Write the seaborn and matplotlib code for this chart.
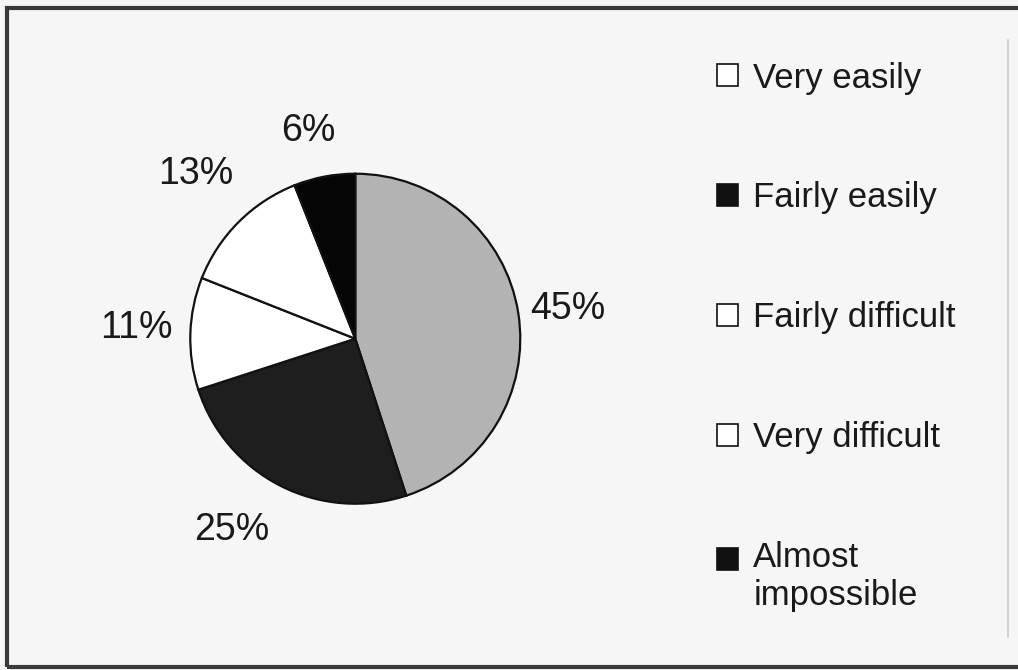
import matplotlib
matplotlib.use("Agg")
import matplotlib.pyplot as plt
from matplotlib.patches import Patch, Rectangle
from matplotlib.lines import Line2D
import numpy as np
import seaborn as sns

# data
categories = ["Very easily", "Fairly easily", "Fairly difficult", "Very difficult", "Almost\nimpossible"]
shares = [45, 25, 11, 13, 6]
wedge_colors = ["#b3b3b3", "#1e1e1e", "#ffffff", "#ffffff", "#050505"]
legend_colors = ["#ffffff", "#111111", "#ffffff", "#ffffff", "#111111"]

# where each percentage sits (radius units, angle nudge in degrees)
label_dist = [1.30, 1.38, 1.33, 1.39, 1.29]
label_nudge = [-1, -6, -1, -1, 2]

sns.set_theme(style="white")
plt.rcParams['font.family'] = ['Liberation Sans', 'DejaVu Sans']

fig = plt.figure(figsize=(10.18, 6.70), dpi=100, facecolor="#f6f6f6")

# pie axes : centre ~ (355,339) px, radius ~165 px
ax = fig.add_axes([0.1464, 0.1866, 0.4052, 0.6157])
ax.set_facecolor("none")
wedges, texts, autotexts = ax.pie(shares, colors=wedge_colors, startangle=90, counterclock=False,
                                  autopct="%.0f%%", pctdistance=1.33,
                                  wedgeprops=dict(edgecolor="#111111", linewidth=1.6),
                                  textprops=dict(fontsize=27, color="#1a1a1a"))
for w, t, d, n in zip(wedges, autotexts, label_dist, label_nudge):
    a = np.deg2rad((w.theta1 + w.theta2) / 2 + n)
    t.set_position((d * np.cos(a), d * np.sin(a)))
ax.set_xlim(-1.25, 1.25)
ax.set_ylim(-1.25, 1.25)
ax.set_aspect("equal")
ax.axis("off")

# legend with square markers
handles = [Patch(facecolor=c, edgecolor="#111111", linewidth=1.2) for c in legend_colors]
leg = fig.legend(handles, categories, loc="upper left", bbox_to_anchor=(0.687, 0.934),
                 frameon=False, fontsize=25, handlelength=0.6, handleheight=0.6,
                 handletextpad=0.45, labelspacing=2.5, borderpad=0, labelcolor="#1a1a1a")
# marker of the two-line entry sits by its first line
last = leg.legend_handles[-1]
last.set_y(last.get_y() + 13)

# frame round the picture (right side runs off the scan)
fig.add_artist(Rectangle((0.0069, 0.0045), 1.0, 0.9836, transform=fig.transFigure,
                         fill=False, edgecolor="#3a3a3a", linewidth=3))
fig.add_artist(Line2D([0.990, 0.990], [0.05, 0.94], transform=fig.transFigure,
                      color="#d2d2d2", linewidth=1.5))

fig.savefig("out.png", dpi=100, facecolor=fig.get_facecolor())
